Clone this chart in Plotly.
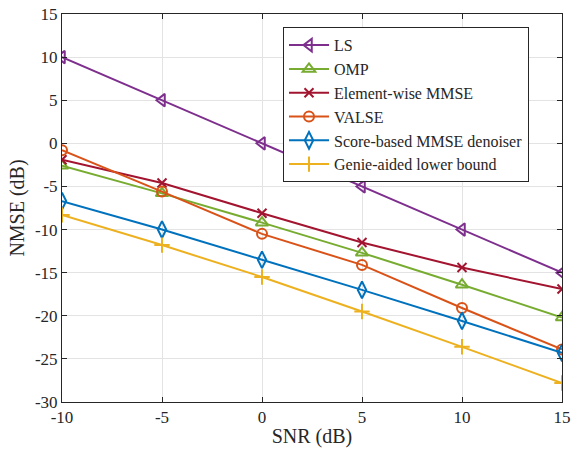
import plotly.graph_objects as go

snr = [-10, -5, 0, 5, 10, 15]
ls = [10, 5, 0, -5, -10, -15]
omp = [-2.6, -5.8, -9.2, -12.7, -16.4, -20.2]
elem_mmse = [-1.9, -4.6, -8.1, -11.5, -14.4, -16.9]
valse = [-0.8, -5.6, -10.5, -14.1, -19.1, -23.9]
score_mmse = [-6.7, -10.0, -13.5, -17.0, -20.6, -24.3]
genie = [-8.3, -11.8, -15.5, -19.5, -23.6, -27.8]

x_ticks = [-10, -5, 0, 5, 10, 15]
x_ticklabels = ["-10", "-5", "0", "5", "10", "15"]
y_ticks = [-30, -25, -20, -15, -10, -5, 0, 5, 10, 15]
y_ticklabels = ["-30", "-25", "-20", "-15", "-10", "-5", "0", "5", "10", "15"]

series = [
    ("LS", ls, "#7E2F8E", "triangle-left-open", 11),
    ("OMP", omp, "#77AC30", "triangle-up-open", 11),
    ("Element-wise MMSE", elem_mmse, "#A2142F", "x-thin-open", 9),
    ("VALSE", valse, "#D95319", "circle-open", 10),
    ("Score-based MMSE denoiser", score_mmse, "#0072BD", "diamond-tall-open", 12),
    ("Genie-aided lower bound", genie, "#EDB120", "cross-thin-open", 11),
]

fig = go.Figure()
for name, vals, col, sym, sz in series:
    fig.add_trace(go.Scatter(
        x=snr, y=vals, name=name, mode="lines+markers",
        line=dict(color=col, width=2),
        marker=dict(symbol=sym, size=sz, color=col, line=dict(color=col, width=2)),
    ))

fam = "Liberation Serif"
tick_font = dict(family=fam, size=17, color="#262626")
title_font = dict(family=fam, size=20, color="#262626")
axis_common = dict(
    showgrid=True, gridcolor="#e3e3e3", gridwidth=1,
    showline=True, linecolor="#262626", linewidth=1, mirror="allticks",
    ticks="inside", ticklen=5, tickcolor="#262626", zeroline=False,
    tickfont=tick_font, automargin=False,
)
fig.update_layout(
    width=571, height=453,
    margin=dict(l=62, r=9, t=14, b=51),
    paper_bgcolor="white", plot_bgcolor="white",
    font=dict(family=fam, size=17, color="#262626"),
    xaxis=dict(range=[-10, 15], tickmode="array", tickvals=x_ticks, ticktext=x_ticklabels,
               title=dict(text="SNR (dB)", font=title_font, standoff=2), **axis_common),
    yaxis=dict(range=[-30, 15], tickmode="array", tickvals=y_ticks, ticktext=y_ticklabels,
               title=dict(text="NMSE (dB)", font=title_font, standoff=4), **axis_common),
    legend=dict(
        x=0.442, y=0.966, xanchor="left", yanchor="top",
        bgcolor="white", bordercolor="#262626", borderwidth=1,
        font=dict(family=fam, size=16, color="#262626"),
        tracegroupgap=0, itemwidth=40,
    ),
    showlegend=True,
)
fig.write_html("out.html")
